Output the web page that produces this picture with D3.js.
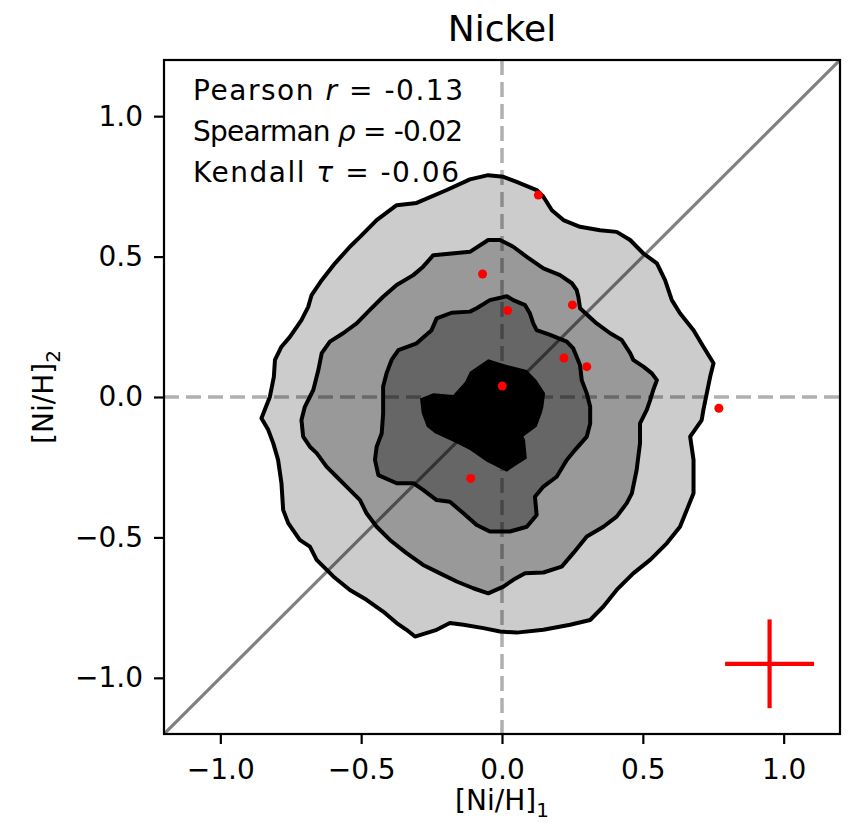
<!DOCTYPE html>
<html><head><meta charset="utf-8">
<script src="https://cdn.jsdelivr.net/npm/d3@7"></script>
<style>body{margin:0;background:#fff} text{font-family:"DejaVu Sans",sans-serif;fill:#000}</style>
</head><body><svg id="c" width="853" height="829"></svg>
<script>
// ---- data ----
const outerContour = [[-0.049,0.790],[-0.114,0.775],[-0.196,0.737],[-0.303,0.691],[-0.374,0.683],[-0.445,0.630],[-0.504,0.570],[-0.540,0.535],[-0.593,0.476],[-0.640,0.416],[-0.676,0.363],[-0.688,0.321],[-0.712,0.274],[-0.753,0.214],[-0.783,0.179],[-0.806,0.132],[-0.810,0.072],[-0.824,0.001],[-0.854,-0.076],[-0.830,-0.117],[-0.812,-0.165],[-0.795,-0.224],[-0.783,-0.307],[-0.777,-0.402],[-0.759,-0.449],[-0.718,-0.509],[-0.682,-0.533],[-0.658,-0.580],[-0.599,-0.639],[-0.540,-0.687],[-0.481,-0.722],[-0.422,-0.764],[-0.374,-0.805],[-0.339,-0.829],[-0.309,-0.853],[-0.232,-0.829],[-0.185,-0.805],[-0.137,-0.811],[-0.066,-0.823],[-0.007,-0.835],[0.052,-0.839],[0.147,-0.829],[0.242,-0.811],[0.313,-0.794],[0.360,-0.746],[0.407,-0.687],[0.466,-0.628],[0.526,-0.580],[0.585,-0.521],[0.632,-0.462],[0.656,-0.402],[0.680,-0.343],[0.680,-0.224],[0.668,-0.141],[0.709,-0.082],[0.715,-0.046],[0.727,0.013],[0.739,0.072],[0.751,0.120],[0.715,0.179],[0.680,0.238],[0.632,0.298],[0.603,0.345],[0.579,0.416],[0.550,0.476],[0.502,0.511],[0.455,0.559],[0.407,0.588],[0.348,0.594],[0.277,0.606],[0.218,0.630],[0.177,0.665],[0.147,0.713],[0.123,0.737],[0.052,0.766],[0.005,0.784]];
const middleContour = [[-0.049,0.559],[-0.114,0.517],[-0.244,0.505],[-0.280,0.464],[-0.315,0.434],[-0.374,0.399],[-0.422,0.357],[-0.469,0.310],[-0.516,0.262],[-0.564,0.227],[-0.611,0.197],[-0.640,0.156],[-0.652,0.096],[-0.670,0.025],[-0.700,-0.035],[-0.712,-0.082],[-0.706,-0.141],[-0.682,-0.177],[-0.658,-0.200],[-0.623,-0.248],[-0.587,-0.284],[-0.552,-0.319],[-0.504,-0.367],[-0.481,-0.414],[-0.445,-0.462],[-0.398,-0.509],[-0.339,-0.556],[-0.280,-0.598],[-0.220,-0.628],[-0.161,-0.657],[-0.102,-0.681],[-0.049,-0.699],[0.005,-0.675],[0.040,-0.651],[0.082,-0.628],[0.147,-0.625],[0.212,-0.604],[0.253,-0.556],[0.301,-0.497],[0.360,-0.462],[0.407,-0.426],[0.443,-0.378],[0.461,-0.343],[0.478,-0.260],[0.490,-0.165],[0.490,-0.094],[0.514,-0.046],[0.526,-0.011],[0.537,0.025],[0.550,0.060],[0.532,0.084],[0.502,0.108],[0.466,0.132],[0.455,0.156],[0.425,0.203],[0.384,0.227],[0.336,0.262],[0.277,0.316],[0.271,0.357],[0.265,0.381],[0.248,0.405],[0.206,0.434],[0.147,0.458],[0.088,0.499],[0.040,0.535],[-0.007,0.559]];
const innerContour = [[0.017,0.359],[-0.043,0.345],[-0.090,0.316],[-0.114,0.304],[-0.179,0.300],[-0.232,0.280],[-0.250,0.238],[-0.303,0.191],[-0.368,0.167],[-0.392,0.132],[-0.410,0.084],[-0.422,0.037],[-0.422,-0.058],[-0.427,-0.129],[-0.445,-0.177],[-0.451,-0.224],[-0.439,-0.278],[-0.374,-0.307],[-0.315,-0.307],[-0.280,-0.331],[-0.232,-0.367],[-0.185,-0.373],[-0.137,-0.414],[-0.090,-0.456],[-0.043,-0.479],[0.028,-0.479],[0.088,-0.462],[0.123,-0.420],[0.117,-0.355],[0.147,-0.319],[0.194,-0.284],[0.230,-0.224],[0.259,-0.189],[0.301,-0.141],[0.313,-0.094],[0.313,-0.035],[0.301,0.013],[0.283,0.060],[0.277,0.114],[0.253,0.173],[0.230,0.197],[0.171,0.221],[0.123,0.238],[0.111,0.262],[0.099,0.298],[0.082,0.327],[0.040,0.345]];
const coreContour = [[-0.049,0.134],[-0.114,0.090],[-0.131,0.054],[-0.173,0.007],[-0.244,0.013],[-0.291,-0.005],[-0.285,-0.058],[-0.267,-0.106],[-0.238,-0.129],[-0.161,-0.165],[-0.114,-0.189],[-0.054,-0.231],[0.017,-0.266],[0.052,-0.242],[0.088,-0.219],[0.082,-0.153],[0.076,-0.141],[0.123,-0.106],[0.141,-0.058],[0.147,-0.035],[0.153,0.013],[0.123,0.060],[0.088,0.096],[0.017,0.114]];
const starX = [0.129,-0.069,0.020,0.250,0.220,0.301,0.001,-0.111,0.770];
const starY = [0.719,0.438,0.308,0.328,0.139,0.108,0.039,-0.290,-0.040];
const errCenter = [0.95,-0.95];
const errHalf = [0.158,0.158];
const xTicks = [-1.0,-0.5,0.0,0.5,1.0];
const yTicks = [-1.0,-0.5,0.0,0.5,1.0];
const domain = [-1.2,1.2];
const statNames = ["Pearson ","Spearman ","Kendall "];
const statSymbols = ["r","ρ","τ"];
const statValues = [" = -0.13"," = -0.02"," = -0.06"];

// ---- drawing ----
const L=164,R=840,T=60,B=734;
const svg=d3.select("#c");
const x=d3.scaleLinear().domain(domain).range([L,R]);
const y=d3.scaleLinear().domain(domain).range([B,T]);
svg.append("defs").append("clipPath").attr("id","clip").append("rect")
  .attr("x",L).attr("y",T).attr("width",R-L).attr("height",B-T);
const g=svg.append("g").attr("clip-path","url(#clip)");

// reference lines (under semi-transparent fills)
g.append("line").attr("x1",x(domain[0])).attr("y1",y(domain[0])).attr("x2",x(domain[1])).attr("y2",y(domain[1]))
  .attr("stroke","#808080").attr("stroke-width",3.2);
g.append("line").attr("x1",x(0)).attr("x2",x(0)).attr("y1",y(domain[1])).attr("y2",y(domain[0]))
  .attr("stroke","#b0b0b0").attr("stroke-width",3.5).attr("stroke-dasharray","15,7");
g.append("line").attr("y1",y(0)).attr("y2",y(0)).attr("x1",x(domain[0])).attr("x2",x(domain[1]))
  .attr("stroke","#b0b0b0").attr("stroke-width",3.5).attr("stroke-dasharray","15,7");

const line=d3.line().x(d=>x(d[0])).y(d=>y(d[1])).curve(d3.curveLinearClosed);
const levels=[{d:outerContour,o:0.2,s:true},{d:middleContour,o:0.25,s:true},{d:innerContour,o:1/3,s:true},{d:coreContour,o:1,s:false}];
levels.forEach(l=>{
  g.append("path").attr("d",line(l.d)).attr("fill","#000").attr("fill-opacity",l.o).attr("stroke","none");
});
levels.forEach(l=>{
  if(l.s) g.append("path").attr("d",line(l.d)).attr("fill","none").attr("stroke","#000").attr("stroke-width",4).attr("stroke-linejoin","round");
});

// points
g.selectAll("circle.pt").data(starX.map((v,i)=>[v,starY[i]])).enter().append("circle")
  .attr("cx",d=>x(d[0])).attr("cy",d=>y(d[1])).attr("r",4.5).attr("fill","#ff0000");

// error cross
g.append("line").attr("x1",x(errCenter[0]-errHalf[0])).attr("x2",x(errCenter[0]+errHalf[0]))
  .attr("y1",y(errCenter[1])).attr("y2",y(errCenter[1])).attr("stroke","#ff0000").attr("stroke-width",4.2);
g.append("line").attr("x1",x(errCenter[0])).attr("x2",x(errCenter[0]))
  .attr("y1",y(errCenter[1]-errHalf[1])).attr("y2",y(errCenter[1]+errHalf[1])).attr("stroke","#ff0000").attr("stroke-width",4.2);

// frame
svg.append("rect").attr("x",L).attr("y",T).attr("width",R-L).attr("height",B-T)
  .attr("fill","none").attr("stroke","#000").attr("stroke-width",2.2);

// axes
const fmt=d3.format(".1f");
const xa=svg.append("g").attr("transform",`translate(0,${B})`)
  .call(d3.axisBottom(x).tickValues(xTicks).tickFormat(fmt).tickSize(10).tickPadding(15));
const ya=svg.append("g").attr("transform",`translate(${L},0)`)
  .call(d3.axisLeft(y).tickValues(yTicks).tickFormat(fmt).tickSize(10).tickPadding(11));
[xa,ya].forEach(a=>{
  a.select(".domain").remove();
  a.selectAll(".tick line").attr("stroke","#000").attr("stroke-width",2.2);
  a.selectAll(".tick text").attr("font-family","DejaVu Sans").attr("font-size",28).attr("fill","#000");
});

// title
svg.append("text").attr("x",(L+R)/2).attr("y",41).attr("text-anchor","middle")
  .attr("font-size",36).text("Nickel");

// axis labels
const xl=svg.append("text").attr("x",(L+R)/2).attr("y",810).attr("text-anchor","middle").attr("font-size",28);
xl.append("tspan").text("[Ni/H]");
xl.append("tspan").attr("dy",7).attr("font-size",20).text("1");
const yl=svg.append("text").attr("transform","translate(53,397) rotate(-90)").attr("text-anchor","middle").attr("font-size",28);
yl.append("tspan").text("[Ni/H]");
yl.append("tspan").attr("dy",7).attr("font-size",20).text("2");

// stats text (spacing stretched to the reference's line lengths)
const lineLengths=[270,270,266];
statNames.forEach((nm,i)=>{
  const t=svg.append("text").attr("x",193).attr("y",100+i*41).attr("font-size",28)
    .attr("textLength",lineLengths[i]).attr("lengthAdjust","spacing");
  t.append("tspan").text(nm);
  t.append("tspan").attr("font-style","italic").text(statSymbols[i]);
  t.append("tspan").text(statValues[i]);
});
</script></body></html>
